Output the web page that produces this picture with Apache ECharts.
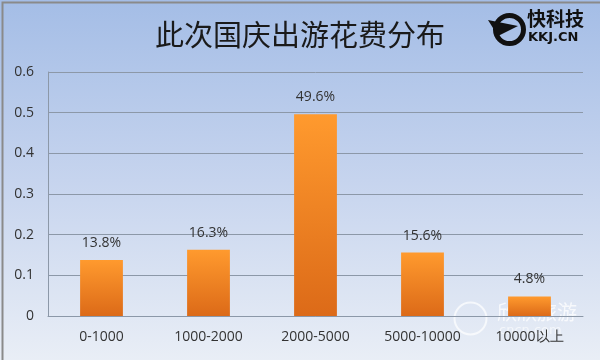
<!DOCTYPE html>
<html><head><meta charset="utf-8">
<script src="https://cdn.jsdelivr.net/npm/echarts@6/dist/echarts.min.js"></script>
<style>html,body{margin:0;padding:0;}#c{width:600px;height:360px;}</style>
</head><body><div id="c"></div>
<script>
const titleText = '此次国庆出游花费分布';
const categories = ['0-1000', '1000-2000', '2000-5000', '5000-10000', '10000以上'];
const values = [0.138, 0.163, 0.496, 0.156, 0.048];
const labels = ['13.8%', '16.3%', '49.6%', '15.6%', '4.8%'];
const yTicks = [0, 0.1, 0.2, 0.3, 0.4, 0.5, 0.6];

const chart = echarts.init(document.getElementById('c'));
chart.setOption({
  backgroundColor: new echarts.graphic.LinearGradient(0, 0, 0, 1, [
    {offset: 0, color: '#a4bde6'},
    {offset: 0.5, color: '#c6d4ee'},
    {offset: 1, color: '#e9eef6'}
  ]),
  title: {
    text: titleText, left: 'center', top: 15,
    textStyle: {fontFamily: 'Noto Sans CJK SC', fontSize: 29, fontWeight: 'normal', color: '#1a1a1a'}
  },
  grid: {left: 48, right: 17, top: 72, bottom: 44, containLabel: false},
  xAxis: {
    type: 'category', data: categories,
    axisLine: {lineStyle: {color: '#8c98a8'}},
    axisTick: {show: false},
    axisLabel: {color: '#333', fontSize: 14, margin: 14, fontFamily: 'Open Sans'}
  },
  yAxis: {
    type: 'value', min: 0, max: 0.6, interval: 0.1,
    axisLine: {show: true, lineStyle: {color: '#8c98a8'}},
    axisTick: {show: false},
    axisLabel: {color: '#333', fontSize: 14, margin: 14, fontFamily: 'Open Sans',
      formatter: v => String(yTicks[Math.round(v * 10)])},
    splitLine: {lineStyle: {color: '#8c98a8'}}
  },
  series: [{
    type: 'bar', data: values, barWidth: '40%',
    itemStyle: {color: new echarts.graphic.LinearGradient(0, 0, 0, 1, [
      {offset: 0, color: '#ff9a2e'},
      {offset: 1, color: '#dc6a18'}
    ])},
    label: {show: true, position: 'top', distance: 10, color: '#333', fontSize: 14, fontFamily: 'Open Sans',
      formatter: p => labels[p.dataIndex]}
  }],
  graphic: [
    {type: 'rect', left: 0, top: 0, shape: {width: 599, height: 359}, style: {fill: 'none', stroke: '#8a8a8a', lineWidth: 2}},
    {type: 'circle', left: 493, top: 13, shape: {r: 14}, style: {fill: 'none', stroke: '#111', lineWidth: 5}},
    {type: 'polygon', shape: {points: [[488, 20], [518, 26], [498, 36]]}, style: {fill: '#111'}},
    {type: 'text', left: 527, top: 9, style: {text: '快科技', fill: '#111', font: 'bold 19px "Noto Sans CJK SC"'}},
    {type: 'text', left: 528, top: 31, style: {text: 'KKJ.CN', fill: '#111', font: 'bold 13px "DejaVu Sans"'}},
    {type: 'text', left: 497, top: 302, style: {text: '欣欣旅游', fill: 'rgba(255,255,255,0.75)', font: '20px "Noto Sans CJK SC"'}},
    {type: 'text', left: 499, top: 324, style: {text: 'cncn.com', fill: 'rgba(255,255,255,0.6)', font: '13px "DejaVu Sans"'}},
    {type: 'circle', left: 452, top: 300, shape: {r: 16}, style: {fill: 'none', stroke: 'rgba(255,255,255,0.7)', lineWidth: 2}}
  ]
});
</script></body></html>
